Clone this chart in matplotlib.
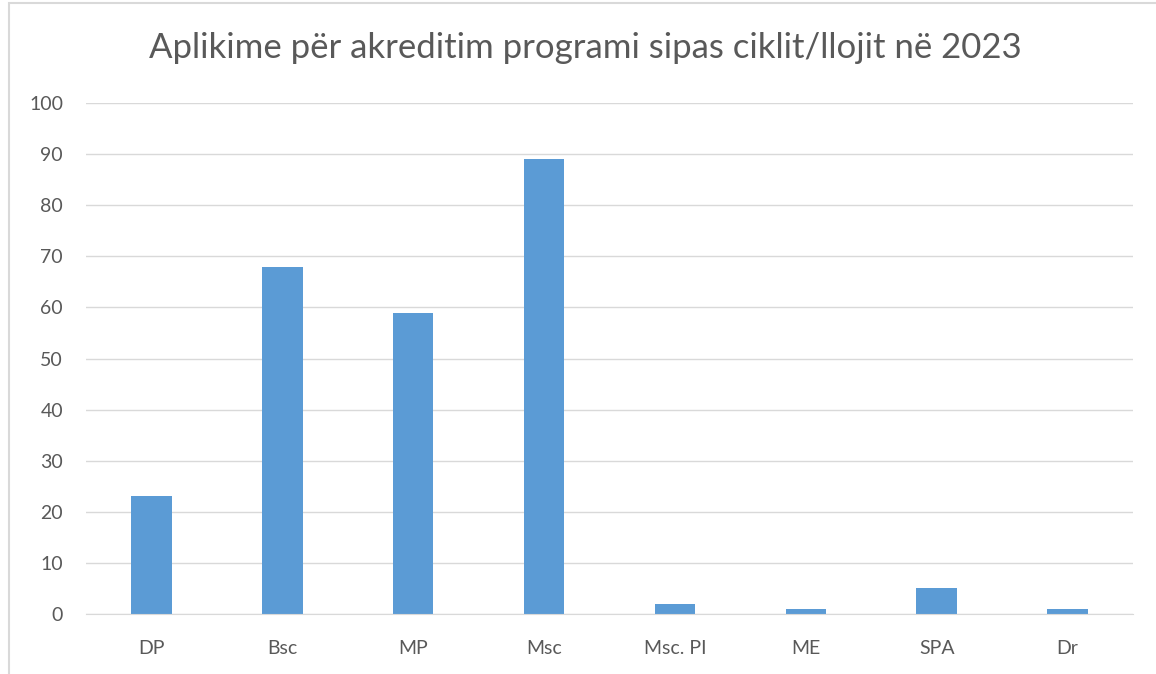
import matplotlib.pyplot as plt
from matplotlib.patches import Rectangle

plt.rcParams['font.family'] = ['Lato', 'DejaVu Sans']

categories = ['DP', 'Bsc', 'MP', 'Msc', 'Msc. PI', 'ME', 'SPA', 'Dr']
values = [23, 68, 59, 89, 2, 1, 5, 1]
yticks = list(range(0, 101, 10))

text_color = '#595959'
grid_color = '#D9D9D9'

fig = plt.figure(figsize=(11.56, 6.74), dpi=100)
ax = fig.add_axes([86 / 1156, 1 - 614 / 674, (1133 - 86) / 1156, (614 - 103) / 674])

x = range(len(categories))
ax.bar(x, values, width=0.31, color='#5B9BD5', zorder=3)

ax.set_xlim(-0.5, len(categories) - 0.5)
ax.set_ylim(0, 100)
ax.set_yticks(yticks)
ax.set_xticks(list(x))
ax.set_xticklabels(categories)
ax.yaxis.grid(True, color=grid_color, linewidth=1, zorder=0)
ax.tick_params(axis='both', length=0, labelsize=14, colors=text_color)
ax.tick_params(axis='x', pad=19)
ax.tick_params(axis='y', pad=16.5)
for s in ['top', 'right', 'left']:
    ax.spines[s].set_visible(False)
ax.spines['bottom'].set_color(grid_color)
ax.spines['bottom'].set_zorder(4)

fig.text(585 / 1156, 1 - 48 / 674, 'Aplikime për akreditim programi sipas ciklit/llojit në 2023',
         ha='center', va='center', fontsize=25, color=text_color)

# outer chart border
fig.patches.append(Rectangle((9 / 1156, -0.01), 1.2, 1 - 3 / 674 + 0.01, transform=fig.transFigure,
                             fill=False, edgecolor=grid_color, linewidth=1.5))

fig.savefig('out.png', dpi=100)
